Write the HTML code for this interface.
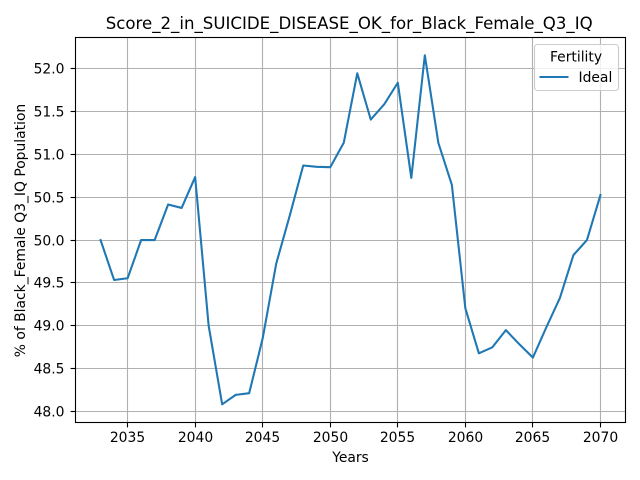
<!DOCTYPE html>
<html>
<head>
<meta charset="utf-8">
<title>Score_2_in_SUICIDE_DISEASE_OK_for_Black_Female_Q3_IQ</title>
<style>
html,body{margin:0;padding:0;background:#fff;}
svg{display:block;}
text{font-family:"DejaVu Sans","Liberation Sans",sans-serif;fill:#000;}
</style>
</head>
<body>
<svg id="chart" xmlns="http://www.w3.org/2000/svg" width="640" height="480" viewBox="0 0 640 480">
  <rect x="0" y="0" width="640" height="480" fill="#ffffff"/>
  <g id="grid"></g>
  <g id="series"></g>
  <g id="ticks"></g>
  <rect x="75.5" y="37.5" width="550" height="385" fill="none" stroke="#000" stroke-width="1.11"/>
  <text x="349.2" y="29" font-size="16.67" text-anchor="middle" textLength="487" lengthAdjust="spacingAndGlyphs">Score_2_in_SUICIDE_DISEASE_OK_for_Black_Female_Q3_IQ</text>
  <text x="350.5" y="462" font-size="13.89" text-anchor="middle">Years</text>
  <text x="0" y="0" font-size="13.89" text-anchor="middle" transform="translate(25 230.5) rotate(-90)">% of Black_Female Q3_IQ Population</text>
  <g>
    <rect x="534.5" y="44.5" width="84" height="46" rx="3" ry="3" fill="#ffffff" fill-opacity="0.8" stroke="#cccccc" stroke-width="1.11"/>
    <text x="576" y="61.5" font-size="13.89" text-anchor="middle">Fertility</text>
    <line x1="539.5" y1="77" x2="568.5" y2="77" stroke="#1f77b4" stroke-width="2.08"/>
    <text x="578.5" y="82" font-size="13.89">Ideal</text>
  </g>
</svg>
<script>
const years = [2033,2034,2035,2036,2037,2038,2039,2040,2041,2042,2043,2044,2045,2046,2047,2048,2049,2050,2051,2052,2053,2054,2055,2056,2057,2058,2059,2060,2061,2062,2063,2064,2065,2066,2067,2068,2069,2070];
const idealValues = [50.0,49.535,49.555,50.0,50.0,50.415,50.375,50.735,49.0,48.085,48.195,48.215,48.855,49.725,50.285,50.87,50.855,50.85,51.135,51.945,51.405,51.585,51.835,50.725,52.155,51.135,50.645,49.205,48.68,48.75,48.95,48.785,48.63,48.985,49.325,49.825,50.0,50.525];
const xTickValues = [2035,2040,2045,2050,2055,2060,2065,2070];
const yTickValues = [48.0,48.5,49.0,49.5,50.0,50.5,51.0,51.5,52.0];
const yTickLabels = ["48.0","48.5","49.0","49.5","50.0","50.5","51.0","51.5","52.0"];

const NS = "http://www.w3.org/2000/svg";
function xScale(v){ return 127.6 + (v - 2035) * (600.45 - 127.6) / 35; }
function yScale(v){ return 411.6 - (v - 48) * (411.6 - 68.6) / 4; }
function snap(p){ return Math.floor(p) + 0.5; }

const gridG = document.getElementById("grid");
const ticksG = document.getElementById("ticks");
const seriesG = document.getElementById("series");

function mk(tag, attrs, parent){
  const el = document.createElementNS(NS, tag);
  for (const k in attrs) el.setAttribute(k, attrs[k]);
  parent.appendChild(el);
  return el;
}

xTickValues.forEach(function(t){
  const x = snap(xScale(t));
  const g = mk("line", {x1:x, x2:x, y1:37.5, y2:422.5, stroke:"#b0b0b0", "stroke-width":1.11}, gridG);
  
  
  const m = mk("line", {x1:x, x2:x, y1:422.5, y2:427.4, stroke:"#000", "stroke-width":1.11}, ticksG);
  
  
  const l = mk("text", {x:x, y:442, "font-size":13.89, "text-anchor":"middle"}, ticksG);
  
  
  l.textContent = String(t);
});

yTickValues.forEach(function(t, i){
  const y = snap(yScale(t));
  const g = mk("line", {x1:75.5, x2:625.5, y1:y, y2:y, stroke:"#b0b0b0", "stroke-width":1.11}, gridG);
  
  
  const m = mk("line", {x1:70.6, x2:75.5, y1:y, y2:y, stroke:"#000", "stroke-width":1.11}, ticksG);
  
  
  const l = mk("text", {x:64.5, y:y + 5, "font-size":13.89, "text-anchor":"end"}, ticksG);
  
  
  l.textContent = yTickLabels[i];
});

const pts = years.map(function(yr, i){ return xScale(yr).toFixed(2) + "," + yScale(idealValues[i]).toFixed(2); }).join(" ");
const line = mk("polyline", {points:pts, fill:"none", stroke:"#1f77b4", "stroke-width":2.08, "stroke-linejoin":"round", "stroke-linecap":"square"}, seriesG);


</script>
</body>
</html>
